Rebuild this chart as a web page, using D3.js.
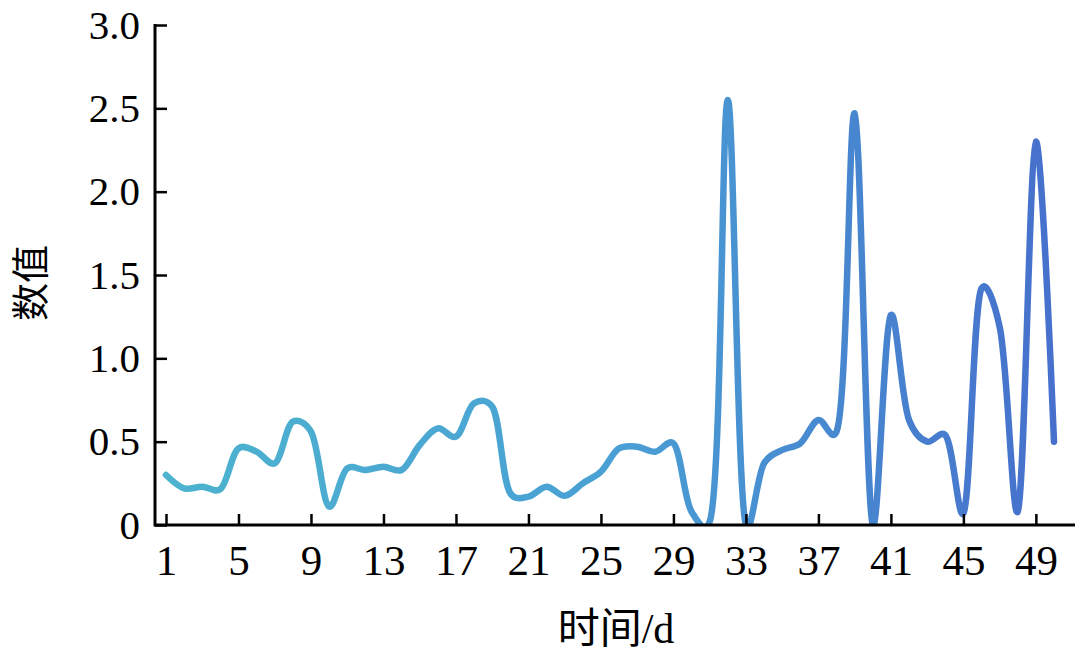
<!DOCTYPE html>
<html>
<head>
<meta charset="utf-8">
<script src="https://cdn.jsdelivr.net/npm/d3@7"></script>
<style>
  html, body { margin: 0; padding: 0; background: #fff; }
  svg { display: block; }
  .tick text { font-family: "Liberation Serif", "Times New Roman", serif; }
</style>
</head>
<body>
<svg id="chart" width="1080" height="653"></svg>
<script>
// ---- data ----
const days = [1,2,3,4,5,6,7,8,9,10,11,12,13,14,15,16,17,18,19,20,21,22,23,24,25,26,27,28,29,30,31,32,33,34,35,36,37,38,39,40,41,42,43,44,45,46,47,48,49,50];
const values = [0.30,0.22,0.23,0.215,0.46,0.44,0.37,0.62,0.56,0.11,
                0.34,0.33,0.35,0.33,0.48,0.58,0.53,0.73,0.71,0.19,
                0.17,0.23,0.175,0.25,0.32,0.46,0.47,0.44,0.49,0.08,
                0.02,2.55,0.0,0.37,0.45,0.49,0.63,0.56,2.47,0.0,
                1.26,0.63,0.50,0.54,0.07,1.42,1.19,0.08,2.30,0.50];
const xTicks = [1,5,9,13,17,21,25,29,33,37,41,45,49];
const yTicks = [0,0.5,1.0,1.5,2.0,2.5,3.0];
const xLabel = "时间/d";
const yLabel = "数值";

// ---- layout ----
const svg = d3.select("#chart");
const axisX0 = 155, axisX1 = 1075, axisYTop = 25, axisYBottom = 525;
const x = d3.scaleLinear().domain([1, 50]).range([166, 1054]);
const y = d3.scaleLinear().domain([0, 3]).range([axisYBottom, axisYTop]);

// gradient
const defs = svg.append("defs");
const grad = defs.append("linearGradient")
  .attr("id", "lineGrad")
  .attr("gradientUnits", "userSpaceOnUse")
  .attr("x1", x(1)).attr("y1", 0)
  .attr("x2", x(50)).attr("y2", 0);
grad.append("stop").attr("offset", "0%").attr("stop-color", "#4db3cf");
grad.append("stop").attr("offset", "50%").attr("stop-color", "#49a0d4");
grad.append("stop").attr("offset", "100%").attr("stop-color", "#4670cc");

defs.append("clipPath").attr("id", "plotClip")
  .append("rect")
  .attr("x", axisX0).attr("y", 0)
  .attr("width", axisX1 - axisX0).attr("height", axisYBottom);

// line
const line = d3.line()
  .x((d, i) => x(days[i]))
  .y(d => y(d))
  .curve(d3.curveCatmullRom.alpha(0.3));

svg.append("path")
  .datum(values)
  .attr("clip-path", "url(#plotClip)")
  .attr("fill", "none")
  .attr("stroke", "url(#lineGrad)")
  .attr("stroke-width", 6.5)
  .attr("stroke-linejoin", "round")
  .attr("stroke-linecap", "round")
  .attr("d", line);

// x axis
const gx = svg.append("g")
  .attr("transform", `translate(0,${axisYBottom})`)
  .call(d3.axisBottom(x).tickValues(xTicks).tickSize(-11).tickPadding(19).tickFormat(d3.format("d")));
gx.select(".domain").remove();
gx.selectAll(".tick line").attr("stroke", "#000").attr("stroke-width", 2.5);
gx.selectAll(".tick text").attr("font-size", 43).attr("fill", "#000");
gx.append("line")
  .attr("x1", axisX0).attr("x2", axisX1).attr("y1", 0).attr("y2", 0)
  .attr("stroke", "#000").attr("stroke-width", 3);

// y axis
const gy = svg.append("g")
  .attr("transform", `translate(${axisX0},0)`)
  .call(d3.axisLeft(y).tickValues(yTicks).tickSize(-12).tickPadding(15)
        .tickFormat(d => d === 0 ? "0" : d3.format(".1f")(d)));
gy.select(".domain").remove();
gy.selectAll(".tick line").attr("stroke", "#000").attr("stroke-width", 2.5);
gy.selectAll(".tick text").attr("font-size", 41).attr("fill", "#000");
gy.append("line")
  .attr("x1", 0).attr("x2", 0).attr("y1", axisYTop - 1).attr("y2", axisYBottom + 1.5)
  .attr("stroke", "#000").attr("stroke-width", 3);

// axis titles
svg.append("text")
  .attr("x", 616).attr("y", 643)
  .attr("text-anchor", "middle")
  .attr("font-family", "'Liberation Serif', 'Noto Sans CJK SC', serif")
  .attr("font-size", 42)
  .attr("fill", "#000")
  .text(xLabel);

svg.append("text")
  .attr("transform", "translate(44,283) rotate(-90)")
  .attr("text-anchor", "middle")
  .attr("font-family", "'Liberation Serif', 'Noto Sans CJK SC', serif")
  .attr("font-size", 38)
  .attr("fill", "#000")
  .text(yLabel);
</script>
</body>
</html>
